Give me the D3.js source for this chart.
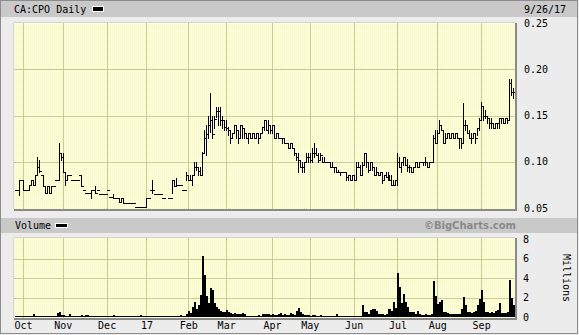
<!DOCTYPE html>
<html>
<head>
<meta charset="utf-8">
<script src="https://cdn.jsdelivr.net/npm/d3@7"></script>
<style>
  body { margin: 0; background: #ececec; }
  svg { display: block; }
  text { font-family: "DejaVu Sans Mono", monospace; font-size: 10px; fill: #000; }
</style>
</head>
<body>
<svg id="chart"></svg>
<script>
// 交易日历 (TSX)
const startDate = "2016-09-27", endDate = "2017-09-26";
const holidays = ["2016-10-10", "2016-12-26", "2016-12-27", "2017-01-02", "2017-02-20",
  "2017-04-14", "2017-05-22", "2017-07-03", "2017-08-07", "2017-09-04"];
const monthLabels = ["Oct", "Nov", "Dec", "17", "Feb", "Mar", "Apr", "May", "Jun", "Jul", "Aug", "Sep"];

// 价格 (美分) : 收盘 / 最高 / 最低
const close = [
  7.0,7.0,8.0,8.0,7.0,7.0,7.0,7.5,8.0,7.5,
  8.6,9.4,9.0,8.6,7.4,6.6,7.4,6.6,7.4,7.4,
  8.0,8.0,11.0,10.5,8.9,8.0,8.6,8.6,8.0,8.0,
  8.0,8.0,8.6,7.4,7.0,6.6,6.6,6.6,7.0,7.0,
  6.6,7.0,6.5,6.5,6.5,6.5,7.0,6.2,6.2,6.1,
  6.1,6.1,5.6,6.1,5.5,5.5,5.5,5.5,5.5,5.5,
  5.1,5.1,5.1,5.1,5.1,5.1,6.1,6.1,7.0,7.0,
  6.5,6.5,6.5,6.5,6.1,6.1,null,6.1,6.1,8.0,
  7.4,7.5,7.5,7.5,7.0,7.0,8.6,8.0,8.0,8.6,
  9.4,9.4,9.0,8.6,11.0,12.6,13.0,14.0,14.5,13.0,
  14.6,15.5,15.5,14.5,14.5,13.8,13.6,13.4,12.6,13.1,
  14.0,13.4,12.6,14.0,13.6,13.1,12.6,13.1,12.6,13.1,
  12.6,13.1,12.6,13.1,13.8,14.5,13.4,14.0,13.4,14.0,
  12.6,13.1,12.6,12.6,12.6,12.0,12.0,11.5,12.0,11.5,
  11.0,10.5,10.2,9.4,9.4,10.0,10.5,10.5,10.2,11.0,
  11.0,10.7,10.2,10.7,10.0,10.0,10.0,10.0,9.4,9.4,
  9.4,8.9,8.9,8.9,8.9,8.9,8.4,8.6,8.0,8.6,
  8.0,9.4,9.4,8.6,9.7,11.0,10.0,9.1,10.0,9.4,
  8.6,8.9,8.6,8.9,8.0,8.6,8.4,8.6,8.0,7.5,
  7.5,8.0,10.0,9.4,10.0,10.5,9.7,9.4,9.4,8.9,
  9.4,10.0,9.4,10.0,10.0,10.0,10.0,9.4,10.0,10.0,
  12.6,12.0,13.1,14.0,13.4,12.0,12.6,13.1,12.6,13.1,
  12.6,13.1,12.6,12.6,12.0,14.0,14.0,13.1,12.6,12.6,
  13.1,12.6,13.6,14.5,16.0,15.0,15.0,14.7,14.2,14.2,
  13.6,14.2,14.2,14.7,14.7,14.2,14.7,14.5,18.5,17.5,17.5
];
const high = [
  7.0,7.0,8.0,8.0,8.0,7.0,7.0,7.5,8.0,8.0,
  8.6,10.5,10.2,8.6,8.6,7.4,7.4,7.4,7.4,7.4,
  8.0,8.0,12.0,11.0,11.0,8.9,8.6,8.6,8.0,8.0,
  8.0,8.0,8.6,8.6,7.0,6.6,6.6,6.6,7.0,7.0,
  7.4,7.0,6.5,6.5,6.5,6.5,7.0,6.2,6.2,6.5,
  6.1,6.1,6.1,6.1,6.1,5.5,5.5,5.5,5.5,5.5,
  5.1,5.1,5.1,5.1,5.1,5.1,6.1,6.1,7.0,8.0,
  6.5,6.5,6.5,6.5,6.1,6.1,null,6.1,6.1,8.0,
  8.0,8.2,7.5,7.5,7.0,7.0,8.9,8.6,8.6,8.6,
  10.0,10.0,9.4,9.4,11.1,13.4,14.0,15.0,17.4,15.0,
  15.0,15.9,15.9,15.9,15.0,14.5,14.5,13.8,13.4,13.1,
  14.0,14.0,13.4,14.0,14.0,13.6,13.1,13.1,13.1,13.1,
  13.1,13.1,13.1,13.1,13.8,14.5,14.5,14.5,14.0,14.0,
  14.0,13.1,13.1,12.6,12.6,12.6,12.0,12.0,12.0,12.0,
  11.5,11.0,11.0,10.2,10.0,10.0,11.0,11.0,11.0,11.5,
  12.0,11.5,11.0,11.0,10.5,10.5,10.0,10.0,10.0,10.0,
  9.4,9.4,9.1,8.9,8.9,8.9,8.9,8.6,8.6,8.6,
  8.6,10.0,10.0,9.7,10.0,11.0,11.0,10.0,10.0,10.0,
  9.4,9.4,8.9,8.9,8.9,8.6,8.9,8.9,8.6,8.6,
  8.0,8.0,11.0,10.5,10.0,10.5,10.5,10.3,9.7,9.4,
  9.4,10.0,10.0,10.0,10.0,10.0,10.5,10.0,10.0,10.0,
  12.9,13.4,13.4,14.5,14.0,13.4,13.1,13.1,13.1,13.1,
  13.1,13.1,13.1,12.6,12.6,16.4,14.5,14.0,13.4,13.1,
  13.1,13.1,13.6,14.7,16.5,16.0,15.6,15.0,14.7,14.7,
  14.2,14.2,14.2,14.7,14.7,14.7,14.7,14.7,18.9,18.9,18.0
];
const low = [
  7.0,7.0,6.4,8.0,7.0,7.0,7.0,7.0,7.5,7.5,
  7.5,8.6,8.9,8.6,7.4,6.6,6.6,6.6,6.6,7.4,
  8.0,8.0,8.0,10.2,8.9,7.5,8.0,8.6,8.0,8.0,
  8.0,8.0,8.6,7.4,7.0,6.6,6.6,6.6,6.1,7.0,
  6.6,7.0,6.5,6.5,6.5,6.5,7.0,6.2,6.2,6.1,
  6.1,6.1,5.6,5.6,5.5,5.5,5.5,5.5,5.5,5.5,
  5.1,5.1,5.1,5.1,5.1,5.1,5.1,6.1,7.0,6.6,
  6.5,6.5,6.5,6.5,6.1,6.1,null,6.1,6.1,6.6,
  7.4,7.4,7.5,7.5,7.0,7.0,8.0,8.0,8.0,7.5,
  8.6,9.1,8.6,8.6,8.6,11.0,10.7,12.6,13.2,12.6,
  13.6,14.8,14.0,14.0,13.6,13.4,13.4,12.9,12.0,12.6,
  13.1,12.6,12.0,12.6,12.6,12.6,12.6,12.0,12.6,12.6,
  12.6,12.6,12.0,12.6,13.1,13.4,13.4,13.1,13.1,13.1,
  12.6,12.6,12.6,12.6,12.0,12.0,12.0,11.5,11.5,11.5,
  10.7,10.2,8.9,9.4,8.9,8.9,10.0,10.0,10.0,10.0,
  10.5,10.7,10.0,10.2,10.0,10.0,10.0,10.0,9.4,9.4,
  8.9,8.9,8.9,8.6,8.9,8.9,8.0,8.0,8.0,8.0,
  8.0,8.0,9.4,8.6,8.6,9.7,9.4,8.9,9.1,9.1,
  8.6,8.6,8.6,8.6,7.7,8.0,8.4,8.0,8.0,7.5,
  7.5,7.5,7.5,9.4,8.9,9.7,9.7,9.0,8.9,8.9,
  8.9,9.4,9.4,9.4,10.0,9.7,9.7,9.4,9.4,10.0,
  10.0,12.0,12.0,13.1,13.4,12.0,12.0,12.6,12.6,12.6,
  12.6,12.6,12.6,11.5,11.5,12.0,13.4,13.1,12.6,12.0,
  12.6,12.0,12.9,13.4,14.5,14.5,14.7,14.2,13.6,13.6,
  13.6,13.6,13.6,13.6,14.2,14.2,14.2,14.2,14.5,17.2,16.9
];
// 成交量 (百万)
const volume = [
  0.05,0.02,0.1,0.03,0.05,0.02,0.02,0.05,0.08,0.3,
  0.15,0.1,0.08,0.05,0.1,0.05,0.03,0.05,0.04,0.02,
  0.1,0.4,0.5,0.2,0.25,0.15,0.1,0.3,0.05,0.05,
  0.05,0.05,0.1,0.2,0.05,0.2,0.2,0.1,0.15,0.05,
  0.1,0.05,0.03,0.03,0.03,0.02,0.05,0.03,0.02,0.2,
  0.02,0.02,0.05,0.05,0.03,0.02,0.02,0.02,0.02,0.02,
  0.02,0.02,0.02,0.2,0.02,0.02,0.05,0.05,0.02,0.1,
  0.02,0.02,0.02,0.02,0.02,0.02,0,0.02,0.02,0.1,
  0.05,0.1,0.02,0.2,0.02,0.05,0.3,0.6,0.4,1.0,
  1.5,0.8,1.2,2.3,6.3,4.3,2.2,1.4,3.0,2.8,
  1.4,1.0,0.8,0.6,0.5,0.5,0.7,0.5,0.4,0.3,
  0.4,0.3,0.35,0.3,0.4,0.3,0.15,0.1,0.1,0.15,
  0.1,0.15,0.2,0.1,0.3,0.3,0.35,0.3,0.2,0.3,
  0.25,0.2,0.3,0.4,0.2,0.3,0.25,0.2,0.4,0.3,
  0.2,0.6,0.9,0.5,0.3,0.2,0.2,0.25,0.15,0.2,
  0.2,0.15,0.1,0.2,0.15,0.1,0.1,0.1,0.15,0.1,
  0.1,0.3,0.1,0.1,0.15,0.1,0.1,0.1,0.1,0.1,
  0.1,0.1,0.1,0.15,1.2,0.5,0.5,0.3,0.7,0.8,
  0.8,0.6,0.3,0.3,0.3,0.25,0.3,0.8,0.8,0.6,
  1.5,0.9,4.5,3.1,1.4,2.4,1.5,1.0,0.5,0.5,
  0.5,0.3,0.6,0.3,0.25,0.2,0.3,0.25,0.2,0.3,
  3.7,2.2,1.3,1.5,1.7,0.5,0.5,0.4,0.3,0.3,
  0.3,0.3,0.3,0.3,0.8,2.1,1.2,0.5,0.5,0.4,
  0.5,0.6,1.2,1.8,2.8,1.5,0.5,0.5,0.4,0.5,
  0.4,0.6,0.7,1.4,0.4,0.4,0.4,0.5,3.8,2.0,1.2
];
const priceTicks = [0.05, 0.10, 0.15, 0.20, 0.25];
const volTicks = [0, 2, 4, 6, 8];

// 生成交易日
const fmt = d3.timeFormat("%Y-%m-%d");
const days = d3.timeDay.range(new Date(startDate + "T00:00"), d3.timeDay.offset(new Date(endDate + "T00:00"), 1))
  .filter(d => d.getDay() !== 0 && d.getDay() !== 6 && !holidays.includes(fmt(d)));
const monthIdx = [];
days.forEach((d, i) => { if (i > 0 && d.getMonth() !== days[i - 1].getMonth()) monthIdx.push(i); });

const W = 579, H = 335;
const left = 14, right = 515;
const pTop = 23, pBot = 209;
const vTop = 238, vBot = 318;

const svg = d3.select("#chart").attr("width", W).attr("height", H);

const defs = svg.append("defs");
const pat = defs.append("pattern").attr("id", "dots").attr("width", 2).attr("height", 2)
  .attr("patternUnits", "userSpaceOnUse");
pat.append("rect").attr("width", 2).attr("height", 2).attr("fill", "#ffffda");
pat.append("rect").attr("width", 1).attr("height", 1).attr("fill", "#f5f5c4");

// 背景与标题栏
svg.append("rect").attr("x", 0.5).attr("y", 0.5).attr("width", W - 2).attr("height", H - 2)
  .attr("fill", "#ececec").attr("stroke", "#8c8c8c");
svg.append("rect").attr("x", 1).attr("y", 1).attr("width", W - 3).attr("height", 16).attr("fill", "#c9c9c9");
svg.append("rect").attr("x", 1).attr("y", 218).attr("width", W - 3).attr("height", 15).attr("fill", "#c9c9c9");

svg.append("text").attr("x", 14).attr("y", 13).text("CA:CPO Daily");
svg.append("rect").attr("x", 92.5).attr("y", 6.5).attr("width", 11).attr("height", 5)
  .attr("fill", "#000").attr("stroke", "#fff");
svg.append("text").attr("x", 524).attr("y", 13).text("9/26/17");

svg.append("text").attr("x", 15).attr("y", 229).text("Volume");
svg.append("rect").attr("x", 55.5).attr("y", 223.5).attr("width", 12).attr("height", 4)
  .attr("fill", "#000").attr("stroke", "#fff");
svg.append("text").attr("x", 516).attr("y", 229).attr("text-anchor", "end")
  .style("font-family", "'DejaVu Sans', sans-serif").style("font-weight", "bold")
  .style("fill", "#8a8a8a").text("©BigCharts.com");

// 比例尺
const x = d3.scaleLinear().domain([0, days.length - 1]).range([15, 513]);
const y = d3.scaleLinear().domain([0.05, 0.25]).range([208, 23]);
const yv = d3.scaleLinear().domain([0, 8]).range([317, 239]);

function panel(top, bot) {
  svg.append("rect").attr("x", left).attr("y", top).attr("width", right - left).attr("height", bot - top)
    .attr("fill", "url(#dots)");
}
panel(pTop, pBot);
panel(vTop, vBot);

const grid = svg.append("g").attr("stroke", "#cbcb94").attr("shape-rendering", "crispEdges");
[[pTop, pBot], [vTop, vBot]].forEach(([t, b]) => {
  monthIdx.forEach(i => {
    const gx = Math.round(x(i)) + 0.5;
    grid.append("line").attr("x1", gx).attr("x2", gx).attr("y1", t).attr("y2", b);
  });
});
priceTicks.slice(1, -1).forEach(v => {
  const gy = Math.round(y(v)) + 0.5;
  grid.append("line").attr("x1", left).attr("x2", right).attr("y1", gy).attr("y2", gy);
});
volTicks.slice(1, -1).forEach(v => {
  const gy = Math.round(yv(v)) + 0.5;
  grid.append("line").attr("x1", left).attr("x2", right).attr("y1", gy).attr("y2", gy);
});

// 价格 OHLC
let d = "";
close.forEach((c, i) => {
  if (c == null) return;
  const X = Math.round(x(i));
  const yc = Math.round(y(c / 100)) + 0.5;
  const yh = Math.round(y(high[i] / 100)), yl = Math.round(y(low[i] / 100));
  if (yl > yh) d += `M${X + 0.5},${yh}V${yl + 1}`;
  const prev = i > 0 ? close[i - 1] : null;
  if (prev != null) d += `M${X - 1},${Math.round(y(prev / 100)) + 0.5}H${X + 1}`;
  d += `M${X},${yc}H${X + 2}`;
});
svg.append("path").attr("d", d).attr("fill", "none").attr("stroke", "#000")
  .attr("shape-rendering", "crispEdges");

// 成交量
svg.append("g").selectAll("rect").data(volume).join("rect")
  .attr("x", (v, i) => Math.round(x(i)))
  .attr("width", 2)
  .attr("y", v => Math.min(Math.round(yv(v)), 316))
  .attr("height", v => 317 - Math.min(Math.round(yv(v)), 316))
  .attr("fill", "#000");

// 边框阴影
function frame(top, bot) {
  const f = svg.append("g").attr("shape-rendering", "crispEdges");
  f.append("line").attr("x1", left).attr("x2", right).attr("y1", top - 0.5).attr("y2", top - 0.5).attr("stroke", "#d4d4d4");
  f.append("line").attr("x1", left - 0.5).attr("x2", left - 0.5).attr("y1", top).attr("y2", bot).attr("stroke", "#d4d4d4");
  f.append("rect").attr("x", right).attr("y", top).attr("width", 2).attr("height", bot - top + 2).attr("fill", "#8a8a8a");
  f.append("rect").attr("x", left).attr("y", bot).attr("width", right - left + 2).attr("height", 2).attr("fill", "#8a8a8a");
}
frame(pTop, pBot);
frame(vTop, vBot);

// 坐标轴
const pAxis = svg.append("g").attr("transform", `translate(${right},0)`)
  .call(d3.axisRight(y).tickValues(priceTicks).tickFormat(d3.format(".2f")).tickSize(0).tickPadding(9));
const vAxis = svg.append("g").attr("transform", `translate(${right},0)`)
  .call(d3.axisRight(yv).tickValues(volTicks).tickFormat(d3.format("d")).tickSize(0).tickPadding(8));
const xAxis = svg.append("g").attr("transform", `translate(0,${vBot})`)
  .call(d3.axisBottom(x).tickValues(monthIdx).tickFormat((v, k) => monthLabels[k]).tickSize(0).tickPadding(4));
[pAxis, vAxis, xAxis].forEach(g => {
  g.select(".domain").remove();
  g.selectAll("text").style("font-family", "'DejaVu Sans Mono', monospace").style("font-size", "10px").attr("fill", "#000");
});

svg.append("text").attr("transform", "translate(563,278) rotate(90)").attr("text-anchor", "middle").text("Millions");
</script>
</body>
</html>
